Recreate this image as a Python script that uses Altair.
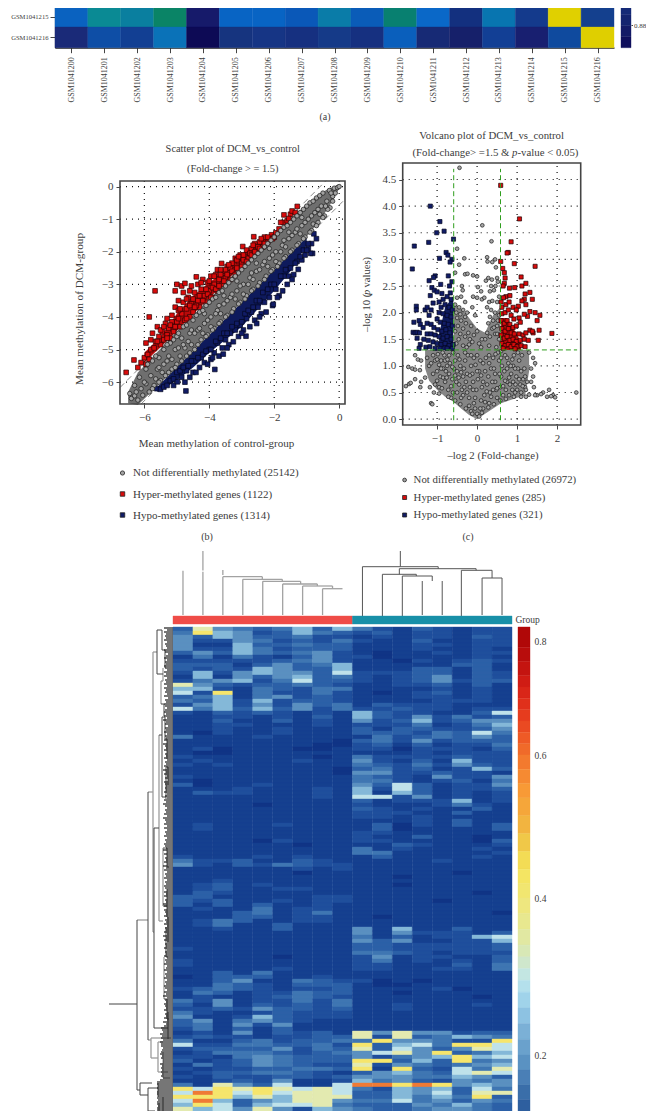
import altair as alt
import pandas as pd

W, H = 638, 1103
FONT = "Liberation Serif"
INK = "#3c3c3c"

# ---------- panel (a): correlation heatmap (visible rows only) ----------
a_rows = ["GSM1041215", "GSM1041216"]
a_colours = [
    ["#0a62c0", "#0a8a94", "#0a7f9f", "#0a8466", "#161a6a", "#0864c4", "#0864c4", "#0a58b8", "#0a7ca8",
     "#0a5cb8", "#088070", "#0a68c8", "#13307f", "#0875b0", "#143a8c", "#e0d000", "#14408e"],
    ["#1a2a78", "#0e4ea6", "#123f93", "#0a72b8", "#0d0a55", "#16347f", "#163585", "#163080", "#153a88",
     "#163080", "#0a5fbc", "#172a75", "#16206a", "#123f95", "#181f70", "#0f4a9e", "#dfcf00"],
]
a_cb_edges = [0.86, 0.87, 0.88, 0.89, 0.897]
a_cb_colours = ["#0f0f5c", "#131a66", "#14246f", "#152a77"]

# ---------- panel (b): scatter ----------
b_grey_band_x = [-6.5, -6.2, -5, -3, -1.5, -1, -.6, -.3, -.1, .03]
b_grey_band_hi = [-6.3, -5.7, -4.45, -2.45, -.98, -.55, -.22, -.05, .02, .03]
b_grey_band_lo = [-6.65, -6.7, -5.55, -3.55, -2.05, -1.53, -1.05, -.6, -.25, -.0]
b_red_band_x = [-6.0, -5.5, -5, -4.5, -4, -3.5, -3, -2.5, -2, -1.6]
b_red_band_hi = [-5.1, -4.6, -3.9, -3.35, -2.95, -2.55, -2.05, -1.7, -1.42, -1.02]
b_red_band_lo = [-5.4, -4.92, -4.42, -3.92, -3.42, -2.92, -2.42, -1.92, -1.42, -1.02]
b_blue_band_x = [-5.6, -5, -4.5, -4, -3.5, -3, -2.5, -2, -1.5, -1]
b_blue_band_hi = [-6.15, -5.55, -5.05, -4.55, -4.05, -3.55, -3.05, -2.55, -2.05, -1.55]
b_blue_band_lo = [-6.3, -5.95, -5.55, -5.1, -4.7, -4.3, -3.75, -3.2, -2.6, -1.8]

b_grey = [(-6.45,-6.35),(-6.4,-6.5),(-6.3,-6.1),(-6.3,-6.42),(-6.2,-6.55),(-6.15,-5.85),(-6.1,-6.2),(-6.05,-6.4),
(-5.95,-5.6),(-5.95,-6.05),(-5.85,-6.3),(-5.8,-5.8),(-5.75,-5.35),(-5.7,-6.1),(-5.6,-5.6),(-5.55,-5.25),(-5.5,-5.95),
(-5.4,-5.0),(-5.4,-5.45),(-5.35,-5.8),(-5.25,-5.2),(-5.2,-4.8),(-5.15,-5.6),(-5.05,-5.0),(-5.0,-4.6),(-5.0,-5.45),
(-4.9,-5.2),(-4.85,-4.65),(-4.8,-4.3),(-4.75,-4.95),(-4.7,-5.2),(-4.6,-4.5),(-4.55,-4.85),(-4.5,-4.1),(-4.45,-5.0),
(-4.35,-4.4),(-4.3,-3.85),(-4.25,-4.7),(-4.15,-4.2),(-4.1,-3.65),(-4.05,-4.55),(-3.95,-4.0),(-3.9,-3.45),(-3.85,-4.35),
(-3.75,-3.8),(-3.7,-3.25),(-3.65,-4.15),(-3.55,-3.6),(-3.5,-3.05),(-3.45,-3.95),(-3.35,-3.4),(-3.3,-2.85),(-3.25,-3.75),
(-3.15,-3.2),(-3.1,-2.65),(-3.05,-3.55),(-2.95,-3.0),(-2.9,-2.45),(-2.85,-3.35),(-2.75,-2.8),(-2.7,-2.25),(-2.65,-3.15),
(-2.55,-2.6),(-2.5,-2.05),(-2.45,-2.95),(-2.35,-2.4),(-2.3,-1.85),(-2.25,-2.75),(-2.15,-2.2),(-2.1,-1.65),(-2.05,-2.55),
(-1.95,-2.0),(-1.9,-1.45),(-1.85,-2.35),(-1.75,-1.8),(-1.7,-1.25),(-1.65,-2.15),(-1.55,-1.6),(-1.5,-1.1),(-1.45,-1.95),
(-1.35,-1.4),(-1.3,-.9),(-1.25,-1.75),(-1.15,-1.2),(-1.1,-.7),(-1.05,-1.55),(-.95,-1.0),(-.9,-.5),(-.85,-1.35),
(-.75,-.8),(-.7,-.35),(-.65,-1.1),(-.55,-.6),(-.5,-.2),(-.45,-.9),(-.38,-.45),(-.3,-.12),(-.28,-.65),(-.2,-.3),
(-.15,-.05),(-.12,-.2),(-.05,-.03),(.0,.0),(-4.95,-4.95),(-4.45,-4.5),(-3.95,-4.3),(-3.45,-3.5),(-2.95,-3.3),
(-2.45,-2.55),(-1.95,-2.3),(-1.45,-1.5),(-5.45,-5.7),(-5.65,-5.9),(-6.0,-6.0),(-6.25,-6.3),(-4.2,-4.5),(-3.7,-3.65),
(-3.2,-3.45),(-2.7,-2.65),(-2.2,-2.45),(-1.7,-1.65),(-1.2,-1.45),(-.8,-1.15),(-5.15,-5.3),(-4.65,-4.75),(-4.15,-3.9),
(-3.65,-3.9),(-3.15,-2.9),(-2.65,-2.85),(-2.15,-1.9),(-1.65,-1.85),(-1.15,-.95),(-.65,-.7),
(-5.9,-5.45),(-5.65,-5.2),(-5.3,-4.85),(-5.1,-4.7),(-4.95,-4.5),(-4.7,-4.25),(-4.4,-3.95),(-4.2,-3.8),(-4.0,-3.55),(-3.8,-3.4),
(-3.6,-3.2),(-3.4,-2.95),(-3.2,-2.75),(-3.0,-2.55),(-2.8,-2.35),(-2.6,-2.15),(-2.4,-1.95),(-2.2,-1.75),(-2.0,-1.55),(-1.8,-1.35),
(-1.6,-1.2),(-1.4,-1.0),(-1.2,-.8),(-1.0,-.6),(-.8,-.45),(-.6,-.28),(-5.75,-6.2),(-5.55,-6.0),(-5.25,-5.7),(-5.05,-5.55),(-4.85,-5.35),
(-4.6,-5.1),(-4.35,-4.85),(-4.1,-4.6),(-3.9,-4.4),(-3.7,-4.2),(-3.5,-4.0),(-3.3,-3.85),(-3.1,-3.6),(-2.9,-3.45),(-2.7,-3.2),(-2.5,-3.05),
(-2.3,-2.85),(-2.1,-2.6),(-1.9,-2.45),(-1.7,-2.2),(-1.5,-2.0),(-1.3,-1.8),(-1.1,-1.6),(-.9,-1.4),(-.7,-1.2),(-.5,-.95),(-.35,-.7),(-.2,-.45),
(-5.55,-5.55),(-5.3,-5.35),(-4.8,-4.85),(-4.55,-4.4),(-4.3,-4.35),(-4.05,-4.1),(-3.8,-3.9),(-3.55,-3.35),(-3.3,-3.3),(-3.05,-3.05),(-2.8,-3.0),
(-2.55,-2.35),(-2.3,-2.3),(-2.05,-2.1),(-1.8,-2.0),(-1.55,-1.4),(-1.3,-1.3),(-1.05,-1.1),(-.85,-.9),(-.6,-.85),(-.42,-.6),(-.25,-.2)]

b_red = [(-6.56,-5.7),(-6.32,-5.32),(-6.2,-5.55),(-6.1,-5.4),(-6.0,-5.25),(-5.95,-5.45),(-5.9,-5.15),(-5.85,-5.3),(-5.8,-5.0),
(-5.85,-4.0),(-5.67,-3.2),(-5.95,-4.8),(-5.8,-4.7),(-5.75,-4.5),(-5.7,-4.95),(-5.65,-4.75),(-5.6,-4.3),(-5.55,-4.6),(-5.5,-4.85),
(-5.45,-4.45),(-5.4,-4.7),(-5.35,-4.2),(-5.3,-4.55),(-5.25,-4.35),(-5.2,-4.65),(-5.15,-3.95),(-5.1,-4.4),(-5.05,-3.7),(-5.0,-4.15),
(-5.0,-3.0),(-5.05,-3.2),(-4.95,-3.5),(-4.9,-4.3),(-4.85,-3.9),(-4.85,-3.05),(-4.75,-2.97),(-4.8,-3.55),(-4.75,-4.1),(-4.7,-3.75),
(-4.65,-3.4),(-4.6,-4.0),(-4.55,-3.6),(-4.5,-3.85),(-4.45,-3.25),(-4.4,-2.77),(-4.35,-3.5),(-4.35,-3.0),(-4.3,-3.7),(-4.25,-3.15),
(-4.2,-2.85),(-4.15,-3.35),(-4.1,-3.55),(-4.05,-2.95),(-4.0,-3.2),(-3.95,-2.75),(-3.9,-3.4),(-3.85,-3.0),(-3.8,-2.7),(-3.75,-3.2),
(-3.7,-2.85),(-3.62,-2.36),(-3.6,-3.0),(-3.55,-2.6),(-3.5,-2.8),(-3.45,-2.45),(-3.4,-2.65),(-3.35,-2.85),(-3.3,-2.35),(-3.25,-2.55),
(-3.2,-2.2),(-3.15,-2.5),(-3.1,-2.3),(-3.05,-2.1),(-2.97,-1.84),(-3.0,-2.35),(-2.9,-2.15),(-2.85,-1.95),(-2.8,-2.2),(-2.7,-1.9),
(-2.63,-1.54),(-2.55,-1.95),(-2.45,-1.7),(-2.35,-1.85),(-2.3,-1.55),(-2.2,-1.7),(-2.08,-1.48),(-2.15,-1.6),(-2.0,-1.55),(-1.95,-1.42),
(-1.7,-.87),(-1.72,-1.1),(-1.6,-1.05),(-1.5,-.85),(-1.45,-.75),(-1.35,-.8),(-1.29,-.61),
(-5.3,-4.05),(-5.15,-4.15),(-4.95,-3.8),(-4.7,-3.45),(-4.6,-3.2),(-4.5,-3.45),(-4.4,-3.65),(-4.2,-3.5),(-4.05,-3.3),(-3.9,-3.1),(-3.75,-2.55),(-3.65,-2.7),
(-3.5,-2.55),(-3.35,-2.5),(-3.15,-2.25),(-2.95,-2.1),(-2.75,-2.05),(-2.6,-1.75),(-2.5,-1.85),(-2.4,-1.6),
(-4.9,-3.75),(-4.8,-3.25),(-4.6,-3.65),(-4.55,-3.05),(-4.45,-3.7),(-4.3,-3.35),(-4.25,-2.95),(-4.1,-3.15),(-4.0,-2.9),(-3.95,-3.4),(-3.85,-2.75),(-3.8,-3.15),
(-3.7,-3.05),(-3.65,-2.55),(-3.55,-2.9),(-3.45,-2.7),(-3.4,-2.4),(-3.3,-2.6),(-3.2,-2.7),(-3.1,-2.15),(-3.0,-2.45),(-2.95,-2.25),(-2.85,-2.3),(-2.7,-2.1),(-2.65,-1.8),
(-2.6,-2.0),(-2.45,-1.9),(-2.3,-1.75),(-5.6,-4.75),(-5.5,-4.4),(-5.4,-4.3),(-5.3,-4.65),(-5.2,-4.25),(-5.1,-4.45),(-5.05,-4.3),(-4.95,-4.05),(-4.7,-4.05),
(-2.2,-1.55),(-2.05,-1.6),(-1.85,-1.3),(-1.8,-1.1),(-1.55,-.98)]

b_blue = [(-5.62,-6.2),(-5.5,-6.22),(-5.4,-6.15),(-5.3,-6.1),(-5.2,-5.95),(-5.1,-5.9),(-5.1,-6.1),(-4.98,-5.99),(-4.72,-6.27),
(-4.85,-5.85),(-4.75,-6.0),(-4.7,-5.65),(-4.6,-5.85),(-4.5,-5.7),(-4.41,-5.7),(-4.45,-5.35),(-4.3,-5.55),(-4.25,-5.25),(-4.15,-5.4),
(-4.05,-5.45),(-4.0,-5.0),(-3.95,-5.3),(-3.85,-5.1),(-3.83,-5.61),(-3.75,-4.8),(-3.7,-5.2),(-3.6,-4.95),(-3.57,-5.14),(-3.5,-4.7),
(-3.4,-4.85),(-3.35,-4.5),(-3.26,-4.76),(-3.2,-4.4),(-3.1,-4.6),(-3.05,-4.25),(-2.95,-4.4),(-2.87,-4.59),(-2.85,-4.05),(-2.75,-4.3),
(-2.7,-3.85),(-2.6,-4.1),(-2.54,-4.2),(-2.5,-3.7),(-2.4,-3.9),(-2.3,-3.55),(-2.25,-3.85),(-2.15,-3.4),(-2.05,-3.65),(-2.03,-3.61),
(-1.95,-3.15),(-1.85,-3.35),(-1.74,-3.2),(-1.7,-2.75),(-1.6,-3.0),(-1.5,-2.5),(-1.4,-2.7),(-1.3,-2.3),(-1.26,-2.54),(-1.15,-2.25),
(-1.05,-2.1),(-.95,-1.9),(-.82,-2.05),(-.88,-2.05),(-.85,-1.75),(-.78,-1.45),(-.7,-1.6),(-.95,-1.75),
(-5.0,-5.7),(-4.9,-5.65),(-4.8,-5.55),(-4.65,-5.5),(-4.55,-5.35),(-4.35,-5.25),(-4.2,-5.15),(-4.1,-5.05),(-3.95,-5.0),(-3.8,-4.75),(-3.65,-4.65),(-3.55,-4.5),
(-3.45,-4.5),(-3.3,-4.3),(-3.15,-4.2),(-3.0,-4.15),(-2.9,-3.9),(-2.8,-3.8),(-2.65,-3.7),(-2.55,-3.5),(-2.45,-3.5),(-2.35,-3.25),(-2.2,-3.15),(-2.1,-3.0),(-2.0,-3.0),
(-1.8,-2.75),(-1.65,-2.55),(-1.55,-2.75),(-1.35,-2.35),(-1.2,-2.15),(-1.1,-1.95),(-1.0,-1.95),(-3.9,-5.25),(-3.45,-4.95),(-3.0,-4.5),(-2.45,-4.0),(-1.9,-3.4),(-1.45,-2.85)]

# ---------- panel (c): volcano ----------
c_low_x = [-1.3, -1.2, -1, -.8, -.6, -.4, -.2, 0, .2, .4, .6, .8, 1, 1.2, 1.3]
c_low_lo = [.95, .72, .55, .42, .33, .2, .08, .0, .1, .2, .3, .35, .4, .44, .9]
c_low_hi = [1.3, 1.3, 1.3, 1.3, 1.3, 1.3, 1.3, 1.3, 1.3, 1.3, 1.3, 1.3, 1.3, 1.3, 1.3]
c_mid_x = [-.585, -.3, 0, .2, .4, .585]
c_mid_lo = [1.3, 1.3, 1.3, 1.3, 1.3, 1.3]
c_mid_hi = [2.2, 2.0, 1.7, 1.62, 1.95, 2.1]
c_blue_band_x = [-.95, -.8, -.6]
c_blue_band_hi = [1.6, 2.1, 2.3]
c_red_band_x = [.6, .75, .95, 1.1]
c_red_band_hi = [1.9, 1.9, 1.65, 1.45]
c_band3_lo = [1.3, 1.3, 1.3]
c_band4_lo = [1.3, 1.3, 1.3, 1.3]

c_grey = [(-.44,4.72),(.13,3.64),(.36,3.34),(-.5,3.2),(-.32,3.02),(-.45,2.9),(.25,3.04),(.26,2.96),(.38,2.95),(.45,3.0),(.47,2.85),
(-.55,2.75),(-.3,2.72),(-.24,2.73),(-.1,2.7),(0,2.68),(.22,2.6),(.28,2.65),(.37,2.62),(.5,2.65),(.52,2.58),(.46,2.5),(.42,2.42),
(-.38,2.5),(-.36,2.42),(.02,2.48),(.1,2.4),(.32,2.4),(.35,2.5),(-.5,2.28),(-.4,2.3),(-.3,2.2),(-.1,2.3),(0,2.28),(.12,2.25),(.18,2.28),
(.3,2.2),(.38,2.22),(.5,2.2),(.55,2.3),(-.55,2.15),(-.45,2.1),(-.35,2.05),(-.25,2.0),(-.12,2.1),(-.05,1.95),(.25,2.1),(.35,2.05),
(.45,2.0),(.55,1.95),(-.5,1.9),(-.4,1.85),(-.28,1.8),(-.15,1.75),(.0,1.65),(.28,1.8),(.4,1.85),(.5,1.75),(-.55,1.65),(-.42,1.6),
(-.3,1.55),(-.18,1.5),(-.08,1.58),(.05,1.42),(.2,1.5),(.32,1.55),(.45,1.6),(.55,1.5),(-.52,1.42),(-.35,1.38),(-.2,1.4),(.1,1.35),(.3,1.38),(.48,1.35),
(-.48,1.75),(-.35,1.7),(-.22,1.62),(-.12,1.45),(.12,1.5),(.25,1.62),(.38,1.7),(.52,1.85),(-.52,2.0),(-.42,1.97),(-.3,1.92),(.32,1.92),(.42,1.72),(.5,1.6),(-.46,1.5),(-.26,1.35),
(-1.55,1.2),(-1.72,.98),(-1.62,.95),(-1.55,.93),(-1.43,.92),(-1.48,1.12),(-1.4,1.1),(-1.55,.75),(-1.4,.7),(-1.42,.6),(-1.78,.62),(-1.7,.66),(-1.66,.68),
(-1.3,.78),(-1.25,1.15),(-1.18,.6),(-1.15,.3),(-1.12,.28),(-1.2,1.0),(1.4,1.15),(1.45,1.05),(1.35,.95),(1.4,.8),(1.35,.7),(1.3,1.25),(1.42,.6),
(1.65,.5),(1.8,.55),(1.5,.45),(2.48,.5),(1.9,.45),(1.75,.42),(1.6,.47),(1.45,.45),(1.95,.41),(1.85,.43),(1.3,.46),(1.22,.42),
(-1.1,1.2),(-1.0,.9),(-.9,1.1),(-.8,.7),(-.7,1.2),(-.6,.5),(-.5,.9),(-.4,.4),(-.3,1.1),(-.2,.25),(-.1,.7),(0,.1),(.1,.35),(.2,.9),(.3,.3),(.4,1.15),(.5,.4),
(.6,.8),(.7,1.2),(.8,.45),(.9,1.0),(1.0,.55),(1.1,.9),(1.2,.6),(-1.05,.65),(-.95,.6),(-.85,.95),(-.75,1.0),(-.65,.4),(-.55,1.1),(-.45,.65),(-.35,.8),(-.25,.5),
(-.15,1.0),(-.05,.4),(.05,.9),(.15,.2),(.25,.65),(.35,.95),(.45,.7),(.55,1.1),(.65,.45),(.75,.7),(.85,.85),(.95,.5),(1.05,1.1),(1.15,.75),(-.15,.15),(.05,.05),(-.05,.2),
(-1.15,1.05),(-1.1,.85),(-1.05,1.1),(-.98,1.22),(-.92,.8),(-.88,.58),(-.82,1.2),(-.78,.9),(-.72,.55),(-.68,1.05),(-.62,.75),(-.58,.95),(-.52,.7),(-.48,1.2),(-.42,1.0),
(-.38,.55),(-.33,.95),(-.28,.7),(-.23,1.2),(-.18,.6),(-.12,.85),(-.08,1.15),(-.02,.55),(.02,.75),(.08,1.1),(.12,.6),(.18,.45),(.22,1.15),(.28,.8),(.32,.5),(.38,.7),
(.42,.95),(.48,.55),(.52,1.25),(.58,.6),(.62,1.0),(.68,.9),(.72,.55),(.78,1.05),(.82,.65),(.88,.55),(.92,1.2),(.98,.8),(1.02,.95),(1.08,.65),(1.12,1.2),(1.18,.95),(1.22,.55),
(-1.0,.72),(-.85,.78),(-.7,.85),(-.55,.82),(-.4,.88),(-.25,.85),(-.1,.55),(.0,.9),(.15,.7),(.3,1.05),(.45,.85),(.6,1.15),(.75,.95),(.9,.7),(1.05,.75),(1.2,.8),
(-.95,1.02),(-.8,1.1),(-.65,.62),(-.5,.5),(-.35,.45),(-.2,.4),(-.08,.3),(.08,.2),(.2,.32),(.35,.42),(.5,.58),(.65,.62),(.8,.78),(.95,.95),(1.1,.5),(1.25,.7),
(-1.08,.5),(-.95,.48),(-.72,.42),(-.55,.35),(-.42,.28),(-.28,.2),(-.12,.1),(.12,.12),(.28,.22),(.42,.28),(.58,.35),(.72,.38),(.92,.42),(1.1,.42),
(-1.0,1.12),(-.86,1.25),(-.74,1.12),(-.6,1.25),(-.44,1.12),(-.3,1.25),(-.15,1.2),(.0,1.2),(.15,1.05),(.3,1.2),(.46,1.22),(.6,1.28),(.75,1.15),(.88,1.12),(1.02,1.25),
(-.9,.95),(-.76,.78),(-.62,.98),(-.46,.78),(-.32,.6),(-.18,.82),(-.04,1.02),(.1,.82),(.24,.52),(.4,.55),(.56,.85),(.7,.72),(.84,1.0),(.96,.65),(1.14,.62)]

c_red = [(.59,4.39),(1.06,3.76),(.85,3.33),(.78,3.13),(.75,3.12),(.59,2.96),(.93,2.92),(1.45,2.87),(.64,2.83),(.68,2.75),(.7,2.65),(.68,2.55),(.65,2.5),
(.81,2.46),(.94,2.47),(1.1,2.67),(1.12,2.5),(1.22,2.55),(1.32,2.38),(1.2,2.35),(1.18,2.25),(1.12,2.22),(1.38,2.25),(1.22,2.15),(1.03,2.12),(.72,2.3),
(.82,2.32),(.66,2.28),(1.57,1.95),(1.45,2.0),(1.32,2.02),(1.26,1.93),(1.18,1.97),(1.5,1.85),(1.87,1.61),(1.55,1.67),(1.53,1.48),(1.4,1.62),(1.32,1.67),(1.38,1.65),
(.6,2.2),(.62,2.1),(.72,2.15),(.8,2.2),(.9,2.1),(.98,2.05),(.62,1.98),(.7,2.0),(.78,2.05),(.85,1.95),(.92,1.88),(1.05,1.9),(1.08,1.82),(.6,1.85),(.68,1.8),
(.75,1.85),(.82,1.78),(.9,1.72),(.98,1.75),(.62,1.7),(.7,1.65),(.78,1.7),(.85,1.62),(.93,1.6),(1.05,1.6),(1.15,1.58),(1.22,1.62),(.6,1.58),(.68,1.52),(.75,1.55),
(.82,1.48),(.9,1.5),(.98,1.46),(1.08,1.48),(1.18,1.5),(1.28,1.48),(.62,1.42),(.7,1.38),(.78,1.4),(.85,1.36),(.92,1.4),(1.0,1.36),(1.1,1.38),(1.2,1.36),(.65,1.33),(.95,1.32)]

c_blue = [(-1.17,4.0),(-.93,3.71),(-1.01,3.5),(-.825,3.53),(-1.21,3.32),(-.59,3.38),(-1.57,3.25),(-.775,3.13),(-.73,3.08),(-.94,3.02),(-.63,3.0),(-.675,2.95),(-1.62,2.82),
(-1.05,2.69),(-1.09,2.66),(-1.2,2.6),(-.72,2.69),(-.63,2.58),(-.91,2.53),(-.69,2.5),(-1.13,2.47),(-1.07,2.42),(-1.0,2.39),(-.67,2.37),(-.88,2.36),(-1.17,2.32),
(-1.52,2.12),(-1.52,2.05),(-1.3,2.05),(-1.25,2.1),(-1.15,2.05),(-1.2,1.95),(-1.1,2.18),(-.95,2.2),(-.85,2.25),(-.75,2.3),(-.65,2.25),(-.9,2.1),(-.8,2.15),(-.7,2.1),
(-.62,2.05),(-.95,2.0),(-.85,1.98),(-.75,1.95),(-.65,1.92),(-1.0,1.88),(-1.45,1.85),(-1.58,1.82),(-1.42,1.78),(-1.35,1.72),(-1.25,1.8),(-1.15,1.78),(-1.08,1.72),(-.92,1.82),
(-.82,1.8),(-.72,1.78),(-.62,1.75),(-.98,1.68),(-.88,1.65),(-.78,1.68),(-.68,1.62),(-1.6,1.63),(-1.55,1.62),(-1.5,1.63),(-1.44,1.62),(-1.25,1.6),(-1.15,1.6),(-1.05,1.58),
(-.95,1.55),(-.85,1.52),(-.75,1.55),(-.65,1.5),(-1.5,1.52),(-1.33,1.5),(-1.22,1.48),(-1.1,1.45),(-1.0,1.42),(-.9,1.4),(-.8,1.42),(-.7,1.38),(-.6,1.4),(-1.42,1.4),(-1.45,1.33),
(-1.28,1.35),(-1.18,1.36),(-1.05,1.33),(-.93,1.33),(-.75,1.33),(-.62,1.33)]

# ---------- panel (d): clustered heatmap, one string per row, one level per sample ----------
d_rows = """385434636|42132122
496523643|23122122
536533422|12122132
522542324|21131122
511633433|11122122
522642333|11121121
353643452|10112122
141421352|20111121
222223452|11021232
333135346|11111331
323265336|11133131
262565537|22233132
161535634|21235132
245624733|21235233
853233432|11223131
662143244|11112121
729142242|10123121
346145232|11122121
436262332|11112221
256252534|13222111
746363524|22322122
213232121|63221137
112212131|63252423
113113121|52362355
112211121|22241246
112112111|31332235
102112111|33324374
411121111|14234353
111111110|34252333
111111100|23131224
120111001|22022213
100111111|11121222
211111101|42222322
121111211|52131622
212111111|43242532
111111110|34231263
111111110|55223221
211111111|43215225
101111111|44212314
301121111|53731225
111211121|62731223
132211121|61631212
111111121|77251212
111111111|31222612
111101111|21112421
111111111|32121131
111111111|22211311
111111111|22121111
111111111|11121311
121112111|13021313
121111111|13011113
111111111|22111111
111111111|21131101
111102111|22111103
111111011|11321112
111111111|41211121
111111111|44111112
211121211|13111121
422311321|11112111
521324322|11111111
111111212|11111111
111111011|11111011
111111111|11011111
112111111|11111111
123121111|11011111
123112211|11111111
132111111|11111101
331111122|11111111
323112122|11110111
313131121|11111111
121141221|11111111
111341241|11111110
111331221|10111111
124311221|11111111
124113111|11111111
112113111|51611311
111111111|51522213
111111111|41312267
111111111|53511226
111111111|33222223
211111111|33222223
111111111|44321222
111110111|25122113
211111111|24121213
211111111|22111314
111112111|22112214
113141111|11111111
013331121|11111111
113511432|20101111
114321333|10011111
234321223|11112011
143122433|11011111
121123432|11111101
425122424|11111111
315132324|11211121
223253323|11211111
421123222|11111111
511263222|11111111
351453211|11111111
341525111|11111111
241313111|11111111
121513231|85855233
232212233|82834654
411342334|49554229
722443342|93674997
233335243|83753587
124443234|57859346
221454333|52456967
312354333|99363945
142354322|82543456
212233443|91932748
123344321|35643787
213223323|55544653
112325112|64532545
418537117|oo9o9565
979898787|42656374
7o9797887|33657388
999686888|33646493
7o6356885|44745354
697367784|33354643
867585265|43345543""".split()
d_palette = {"0": "#103485", "1": "#15408f", "2": "#1f4f9c", "3": "#2c60a7", "4": "#3f76b2", "5": "#5a90c0",
             "6": "#84b8d8", "7": "#bfe2ea", "8": "#e3eab0", "9": "#f6e56c", "o": "#ef7a35"}

d_cb_edges = [.825, .79, .765, .74, .72, .70, .68, .66, .64, .62, .60, .58, .56, .54, .515, .49, .465, .44, .42, .40,
              .38, .36, .34, .325, .31, .295, .28, .26, .24, .22, .20, .18, .16, .14, .125]
d_cb_colours = ["#b00808", "#b80d0c", "#c41410", "#d01c14", "#d92618", "#e0301b", "#e63c1e", "#ea4a22", "#ee5a26", "#f06a2a",
                "#f37a2e", "#f68a32", "#f89a36", "#f5a63a", "#f2b440", "#f0c848", "#f3dc55", "#f4e563", "#f1e670", "#eee77f",
                "#e8e88f", "#e1e8a2", "#d8e8b6", "#cfe7cc", "#c3e6e2", "#b4e0ec", "#a0d3ea", "#8dc2e2", "#7bb0d6", "#6aa1cc",
                "#5a92c2", "#4a7fb6", "#3a6ea9", "#2e5f9f"]

# top dendrogram: sample position, merge height
d_top_grey = [(.5,1,.5,45.3),(1.5,1,1.5,44.3),(1.5,45.5,1.5,65),(2.5,1,2.5,39.3),(2.5,41,2.5,46),(2.5,39.3,4.48,39.3),(3.5,1,3.5,36.7),
(3.5,36.7,5.48,36.7),(4.48,36.7,4.48,39.3),(4.5,1,4.5,34.7),(4.5,34.7,6.4,34.7),(5.48,34.7,5.48,36.7),(5.5,1,5.5,32),(5.5,32,7.24,32),
(6.4,32,6.4,34.7),(6.5,1,6.5,30),(6.5,30,8,30),(7.24,30,7.24,32),(7.5,1,7.5,27.3),(7.5,27.3,8.5,27.3),(8,27.3,8,30)]
d_top_dark = [(11.4,49.3,11.4,65),(9.5,49.3,13.3,49.3),(9.5,0,9.5,49.3),(13.3,47.3,13.3,49.3),(11.35,47.3,15.2,47.3),(11.35,41.7,11.35,47.3),
(10.5,41.7,12.2,41.7),(10.5,0,10.5,41.7),(12.2,40,12.2,41.7),(11.5,40,13,40),(11.5,0,11.5,40),(13,35,13,40),(12.5,1,12.5,35),(13.5,1,13.5,35),
(15.2,45.7,15.2,47.3),(14.46,45.7,16,45.7),(14.46,0,14.46,45.7),(16,38,16,45.7),(15.5,38,16.5,38),(15.5,1,15.5,38),(16.5,1,16.5,38)]

# left dendrogram: merge height, leaf position
d_left_dark = [(64,377,36,377),(36,293,36,463),(25,165,25,413),(16,3,16,47),(19,201,19,401),(19,201,14,201),(19,401,8,401),(11,90,11,170),(14,108,11,108),
(16,3,11,3),(11,3,11,23),(11,23,8,23),(8,23,8,41),(16,47,10,47),(9,77,9,89),(12,77,9,77),(11,90,8,90),(8,90,8,112),(8,112,6,112),(6,112,6,132),(11,170,7,170),
(7,140,7,172),(7,140,5,140),(5,140,5,158),(10,221,6,221),(6,221,6,240),(6,240,4,240),(10,279,6,279),(6,262,6,290),(5,290,5,315),(9,372,6,372),(6,372,6,392),(6,392,4,392),
(7,300,7,330),(7,330,5,330),(8,401,5,401),(5,385,5,412),(36,463,33,463),(33,456,33,468),(33,456,21,456),(33,468,25,468),(25,461,25,484),(25,461,15,461),(15,456,15,470),
(25,484,18,484),(14,476,14,484),(10,470,10,484)]
d_left_grey = [(36,293,25,293),(25,165,20,165),(20,25,20,305),(20,25,16,25),(20,305,19,305),(14,108,14,294),(14,294,10,294),(10,221,10,279),(10,41,10,54),(10,54,12,54),(12,54,12,77),
(9,330,9,372),(25,413,22,413),(22,411,2,411),(22,411,22,431),(22,431,15,431),(15,415,15,445),(15,415,10,415),(10,425,10,451),(10,451,3,451),(15,445,5,445)]
d_leaf_len = ("9697879687" "6985796879" "8697968796" "9786958798" "6897960785" "8796879608" "7968796879" "6079685987"
              "8796869708" "6879608796" "9687968798" "7069687960" "7968796879" "8697968709" "6987968796" "8796079687"
              "9687968796" "7968796879" "8697068798" "7968796079"
              "cbadbcadccabcdbcaadbcbcbcad"
              "ggfgfggfgfggfgg")

# ---------- helpers ----------
def rng(a, b):
    return [a - 8, b - 8]

def S(dom, r):
    return alt.Scale(domain=dom, range=r, nice=False, zero=False)

def rects(df, sx, sy, ax=None, ay=None):
    return alt.Chart(df).mark_rect(strokeWidth=.4).encode(
        x=alt.X("x:Q", scale=sx, axis=ax), x2="x2:Q",
        y=alt.Y("y:Q", scale=sy, axis=ay), y2="y2:Q",
        fill=alt.Fill("c:N", scale=None), stroke=alt.Stroke("c:N", scale=None))

def segs(items, sx, sy, colour, w=1.0, dash=None):
    df = pd.DataFrame(items, columns=["x", "y", "x2", "y2"])
    kw = {"strokeDash": dash} if dash else {}
    return alt.Chart(df).mark_rule(color=colour, strokeWidth=w, **kw).encode(
        x=alt.X("x:Q", scale=sx, axis=None), x2="x2:Q",
        y=alt.Y("y:Q", scale=sy, axis=None), y2="y2:Q")

def band(xs, lo, hi, sx, sy, colour):
    df = pd.DataFrame({"x": xs, "lo": lo, "hi": hi})
    return alt.Chart(df).mark_area(color=colour).encode(
        x=alt.X("x:Q", scale=sx, axis=None),
        y=alt.Y("lo:Q", scale=sy, axis=None), y2="hi:Q")

def pts(items, sx, sy, shape, fill, stroke, size, sw=.7):
    df = pd.DataFrame(items, columns=["x", "y"])
    return alt.Chart(df).mark_point(shape=shape, filled=True, fill=fill, stroke=stroke, strokeWidth=sw, size=size, opacity=1).encode(
        x=alt.X("x:Q", scale=sx, axis=None), y=alt.Y("y:Q", scale=sy, axis=None))

def txt(s, x, y, size=10.5, align="center", angle=0, style="normal"):
    return alt.Chart(pd.DataFrame({"t": [s]})).mark_text(
        font=FONT, fontSize=size, color=INK, align=align, baseline="middle", angle=angle, fontStyle=style
    ).encode(x=alt.value(x - 8), y=alt.value(y - 8), text="t:N")

def sym(shape, fill, x, y, size):
    return alt.Chart(pd.DataFrame({"t": [1]})).mark_point(
        shape=shape, filled=True, fill=fill, stroke="#222", strokeWidth=.8, size=size, opacity=1
    ).encode(x=alt.value(x - 8), y=alt.value(y - 8))

def axis_common(**kw):
    base = dict(grid=False, title=None, labelFont=FONT, labelColor=INK, tickColor="#444", domain=False)
    base.update(kw)
    return alt.Axis(**base)

def framed(xd, yd, sx, sy, ax, ay):
    df = pd.DataFrame({"x": [xd[0]], "x2": [xd[1]], "y": [yd[0]], "y2": [yd[1]]})
    return alt.Chart(df).mark_rect(fillOpacity=0, stroke="#444", strokeWidth=1.6).encode(
        x=alt.X("x:Q", scale=sx, axis=ax), x2="x2:Q",
        y=alt.Y("y:Q", scale=sy, axis=ay), y2="y2:Q")

# ---------- panel (a) ----------
ax_s = S([0, 17], rng(55, 614))
ay_s = S([0, 2], rng(6.5, 47.7))
a_df = pd.DataFrame([{"x": j, "x2": j + 1, "y": i, "y2": i + 1, "c": c}
                     for i, row in enumerate(a_colours) for j, c in enumerate(row)])
a_xaxis = axis_common(orient="bottom", offset=47.7 - 8 - H, values=[k + .5 for k in range(17)],
                      labelExpr="'GSM' + (1041200 + floor(datum.value))", labelAngle=270, labelAlign="right",
                      labelBaseline="middle", labelFontSize=8, tickSize=5, labelPadding=4, domain=True, domainColor="#222", domainWidth=1.2)
a_yaxis = axis_common(orient="left", offset=-(55 - 8), values=[.5, 1.5],
                      labelExpr="datum.value < 1 ? 'GSM1041215' : 'GSM1041216'", labelFontSize=6.6, tickSize=5, labelPadding=2,
                      domain=True, domainColor="#222", domainWidth=1.2)
panel_a = rects(a_df, ax_s, ay_s, a_xaxis, a_yaxis)

acb_x = S([0, 1], rng(621, 631))
acb_y = S([.86, .897], rng(47.7, 6.6))
acb_df = pd.DataFrame({"x": 0, "x2": 1, "y": a_cb_edges[:-1], "y2": a_cb_edges[1:], "c": a_cb_colours})
acb_axis = axis_common(orient="right", offset=631 - 8 - W, values=[.88], format=".2f", labelFontSize=7, tickSize=1.5, labelPadding=1)
panel_acb = rects(acb_df, acb_x, acb_y, None, acb_axis)

# ---------- panel (b) ----------
bxd, byd = [-6.75, .18], [-6.67, .17]
bx = S(bxd, rng(120, 345))
by = S(byd, rng(404, 181))
b_xaxis = axis_common(orient="bottom", offset=404 - 8 - H, values=[-6, -4, -2, 0], labelFontSize=11, tickSize=4, labelPadding=3)
b_yaxis = axis_common(orient="left", offset=-(120 - 8), values=[0, -1, -2, -3, -4, -5, -6], labelFontSize=11, tickSize=4, labelPadding=3)
b_grid = [(v, byd[0], v, byd[1]) for v in [-6, -4, -2, 0]] + [(bxd[0], v, bxd[1], v) for v in [0, -1, -2, -3, -4, -5, -6]]
b_dash = [(-6.75, -6.165, -.405, .18), (-6.1, -6.67, .18, -.39)]
panel_b = alt.layer(
    segs(b_grid, bx, by, "#111", 1.2, [1, 5]),
    segs(b_dash, bx, by, "#8a8a8a", 1, [6, 4]),
    band(b_red_band_x, b_red_band_lo, b_red_band_hi, bx, by, "#b80a0a"),
    band(b_blue_band_x, b_blue_band_lo, b_blue_band_hi, bx, by, "#0e1a5c"),
    band(b_grey_band_x, b_grey_band_lo, b_grey_band_hi, bx, by, "#6f6f6f"),
    pts(b_red, bx, by, "square", "#d90b0b", "#2a0505", 22),
    pts(b_blue, bx, by, "square", "#111c66", "#05071f", 22),
    pts(b_grey, bx, by, "circle", "#a3a3a3", "#1a1a1a", 20),
)
frame_b = framed(bxd, byd, bx, by, b_xaxis, b_yaxis)

# ---------- panel (c) ----------
cxd, cyd = [-1.86, 2.59], [-.11, 4.81]
cx = S(cxd, rng(402.7, 580.7))
cy = S(cyd, rng(425, 163))
c_xaxis = axis_common(orient="bottom", offset=425 - 8 - H, values=[-1, 0, 1, 2], labelFontSize=11, tickSize=4, labelPadding=3)
c_yaxis = axis_common(orient="left", offset=-(402.7 - 8), values=[0, .5, 1, 1.5, 2, 2.5, 3, 3.5, 4, 4.5], labelFontSize=11, tickSize=4, labelPadding=3)
c_grid = [(v, cyd[0], v, cyd[1]) for v in [-1, 0, 1, 2]] + [(cxd[0], v, cxd[1], v) for v in [0, .5, 1, 1.5, 2, 2.5, 3, 3.5, 4, 4.5]]
c_green = [(-.585, -.02, -.585, 4.7), (.585, -.02, .585, 4.7), (-1.78, 1.3, 2.5, 1.3)]
panel_c = alt.layer(
    segs(c_grid, cx, cy, "#111", 1.2, [1, 5]),
    band(c_low_x, c_low_lo, c_low_hi, cx, cy, "#858585"),
    band(c_mid_x, c_mid_lo, c_mid_hi, cx, cy, "#858585"),
    band(c_blue_band_x, c_band3_lo, c_blue_band_hi, cx, cy, "#0e1a5c"),
    band(c_red_band_x, c_band4_lo, c_red_band_hi, cx, cy, "#b80a0a"),
    pts(c_grey, cx, cy, "circle", "#a6a6a6", "#1a1a1a", 14),
    pts(c_red, cx, cy, "square", "#d90b0b", "#1a0505", 17),
    pts(c_blue, cx, cy, "square", "#111c66", "#05071f", 17),
    segs(c_green, cx, cy, "#2f9e1e", 1, [5, 3]),
)
frame_c = framed(cxd, cyd, cx, cy, c_xaxis, c_yaxis)

# ---------- panel (d) ----------
dx = S([0, 17], rng(173, 512))
dy = S([0, 121], rng(627, 1111))
d_records = []
for i, row in enumerate(d_rows):
    levels = row.replace("|", "")
    assert len(levels) == 17, (i, row)
    for j, ch in enumerate(levels):
        d_records.append({"x": j, "x2": j + 1, "y": i, "y2": i + 1, "c": d_palette[ch]})
panel_d = rects(pd.DataFrame(d_records), dx, dy)

gy = S([0, 1], rng(616, 624))
g_df = pd.DataFrame({"x": [0, 9], "x2": [9, 17], "y": 0, "y2": 1, "c": ["#ef4c48", "#1890a8"]})
panel_group = rects(g_df, dx, gy)

ty = S([0, 70], rng(616, 546))
panel_top = alt.layer(
    segs(d_top_grey, dx, ty, "#a2a2a2", 1.3),
    segs(d_top_dark, dx, ty, "#555555", 1.0),
)

lx = S([75, 0], rng(98, 173))
ly = S([-7, 484], rng(620, 1111))
leaf_items = [(int(ch, 36) or 10, 2 * i + 1, 0, 2 * i + 1) for i, ch in enumerate(d_leaf_len)]
panel_left = alt.layer(
    segs(d_left_grey, lx, ly, "#9c9c9c", 1.3),
    segs(d_left_dark, lx, ly, "#444444", 1.0),
    segs(leaf_items, lx, ly, "#1a1a1a", 1.2),
)

dcb_x = S([0, 1], rng(518, 530))
dcb_y = S([.825, .8, .6, .4, .2, .125], rng(627, 641.7) + rng(755, 898) + rng(1055, 1111))
dcb_df = pd.DataFrame({"x": 0, "x2": 1, "y": d_cb_edges[:-1], "y2": d_cb_edges[1:], "c": d_cb_colours})
dcb_axis = axis_common(orient="right", offset=530 - 8 - W, values=[.2, .4, .6, .8], format=".1f", labelFontSize=9.5, ticks=False, labelPadding=4)
panel_dcb = rects(dcb_df, dcb_x, dcb_y, None, dcb_axis)

# ---------- text ----------
texts = [
    txt("(a)", 325, 116.5, 10),
    txt("Scatter plot of DCM_vs_control", 232.7, 149, 10.4),
    txt("(Fold-change > = 1.5)", 232.7, 169, 10.4),
    txt("Mean methylation of DCM-group", 80, 309, 11.2, angle=270),
    txt("Mean methylation of control-group", 216.5, 443.5, 11),
    txt("Not differentially methylated (25142)", 133, 473, 11, "left"),
    txt("Hyper-methylated genes (1122)", 133, 494.5, 11, "left"),
    txt("Hypo-methylated genes (1314)", 133, 515.5, 11, "left"),
    txt("(b)", 207, 537, 10),
    txt("Volcano plot of DCM_vs_control", 491.7, 136, 10.8),
    txt("(Fold-change> =1.5 &", 509.5, 152.7, 10.8, "right"),
    txt("p", 512, 152.7, 10.8, "left", style="italic"),
    txt("-value < 0.05)", 517.5, 152.7, 10.8, "left"),
    txt("\u2013log 10 (", 367, 332, 10.6, "left", 270),
    txt("p", 367, 295, 10.6, "left", 270, "italic"),
    txt("values)", 367, 287.5, 10.6, "left", 270),
    txt("\u2013log 2 (Fold-change)", 493, 455.5, 10.8),
    txt("Not differentially methylated (26972)", 413.6, 480, 10.8, "left"),
    txt("Hyper-methylated genes (285)", 413.6, 497.5, 10.8, "left"),
    txt("Hypo-methylated genes (321)", 413.6, 515, 10.8, "left"),
    txt("(c)", 468, 537, 10),
    txt("Group", 515.5, 620, 9.5, "left"),
]
symbols = [
    sym("circle", "#a3a3a3", 122.5, 473, 18),
    sym("square", "#d90b0b", 122.5, 494, 20),
    sym("square", "#111c66", 122.5, 515, 20),
    sym("circle", "#a3a3a3", 404.6, 480, 14),
    sym("square", "#d90b0b", 404.6, 497.5, 16),
    sym("square", "#111c66", 404.6, 515, 16),
]

chart = alt.layer(
    panel_a, panel_acb, panel_b, frame_b, panel_c, frame_c, panel_top, panel_group, panel_d, panel_left, panel_dcb,
    *symbols, *texts
).resolve_scale(x="independent", y="independent").resolve_axis(x="independent", y="independent").properties(
    width=W, height=H, padding=0, autosize=alt.AutoSizeParams(type="none", contains="padding"), background="white"
).configure_view(stroke=None)

chart.save("out.html", embed_options={"renderer": "svg", "actions": False})
